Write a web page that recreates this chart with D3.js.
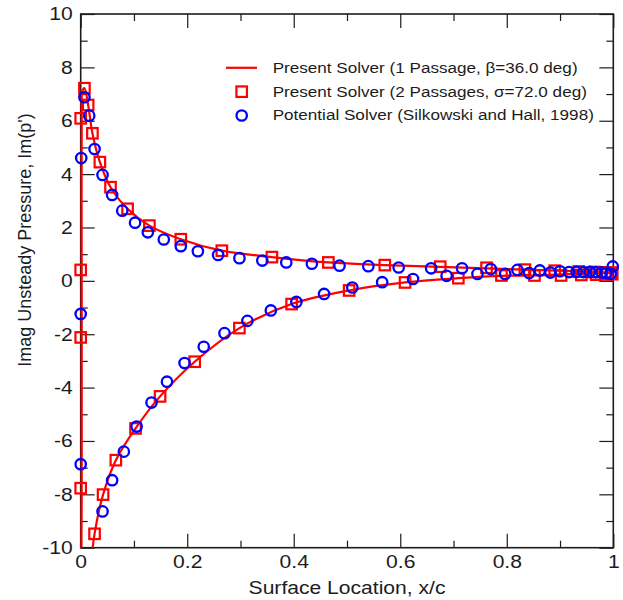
<!DOCTYPE html>
<html>
<head>
<meta charset="utf-8">
<script src="https://cdn.jsdelivr.net/npm/d3@7"></script>
<style>
  html, body { margin: 0; padding: 0; background: #fff; }
  svg { display: block; font-family: "Liberation Sans", Arial, Helvetica, sans-serif; }
</style>
</head>
<body>
<svg id="chart" width="623" height="600"></svg>
<script>
// Imaginary part of unsteady surface pressure vs. chordwise location

// Present solver, 1 passage (solid line): lower surface TE -> LE, then upper surface LE -> TE
const solverX = [1.0, 0.95, 0.9, 0.852, 0.79, 0.709, 0.609, 0.504, 0.396, 0.298, 0.214, 0.149, 0.103, 0.066, 0.042, 0.026, 0.016, 0.006,
                 0.0, 0.0, 0.0, 0.0, 0.0, 0.003, 0.007, 0.014, 0.022, 0.036, 0.056, 0.088, 0.129, 0.188, 0.265, 0.359, 0.465, 0.571,
                 0.675, 0.762, 0.834, 0.9, 0.95, 1.0];
const solverY = [0.30, 0.27, 0.24, 0.20, 0.19, 0.10, -0.06, -0.36, -0.87, -1.77, -3.03, -4.33, -5.53, -6.72, -8.01, -9.48, -11.2, -13.0,
                 -11.0, -7.77, -2.12, 0.41, 6.09, 7.1, 7.22, 6.59, 5.53, 4.45, 3.51, 2.70, 2.07, 1.56, 1.13, 0.89, 0.69, 0.59,
                 0.52, 0.47, 0.42, 0.38, 0.34, 0.31];

// Present solver, 2 passages (squares)
const twoPassX = [0, 0, 0.007, 0.014, 0.022, 0.036, 0.056, 0.088, 0.129, 0.188, 0.265, 0.359, 0.465, 0.571, 0.675, 0.762, 0.834, 0.890, 0.935, 0.965, 0.985, 0.997,
                  0, 0, 0.026, 0.042, 0.066, 0.103, 0.149, 0.214, 0.298, 0.396, 0.504, 0.609, 0.709, 0.790, 0.852, 0.902, 0.940, 0.968, 0.988, 0.998];
const twoPassY = [0.41, 6.09, 7.22, 6.59, 5.53, 4.45, 3.51, 2.70, 2.07, 1.56, 1.13, 0.89, 0.69, 0.59, 0.53, 0.49, 0.42, 0.38, 0.35, 0.33, 0.32, 0.31,
                  -2.12, -7.77, -9.48, -8.01, -6.72, -5.53, -4.33, -3.03, -1.77, -0.87, -0.36, -0.06, 0.10, 0.20, 0.20, 0.20, 0.22, 0.23, 0.24, 0.25];

// Potential solver (circles)
const potentialX = [0.001, 0.007, 0.016, 0.026, 0.041, 0.059, 0.078, 0.102, 0.126, 0.156, 0.188, 0.220, 0.258, 0.298, 0.341, 0.386, 0.434, 0.486, 0.540, 0.597,
                    0.658, 0.716, 0.770, 0.820, 0.862, 0.900, 0.931, 0.956, 0.978, 0.999,
                    0, 0, 0.041, 0.059, 0.081, 0.105, 0.133, 0.162, 0.195, 0.231, 0.270, 0.313, 0.357, 0.405, 0.457, 0.510, 0.566, 0.624, 0.687, 0.745,
                    0.797, 0.842, 0.882, 0.917, 0.944, 0.967, 0.987, 0.995];
const potentialY = [4.6, 6.88, 6.19, 4.94, 3.97, 3.22, 2.63, 2.18, 1.82, 1.55, 1.30, 1.11, 0.97, 0.85, 0.76, 0.69, 0.64, 0.57, 0.55, 0.50,
                    0.47, 0.47, 0.44, 0.41, 0.39, 0.36, 0.34, 0.34, 0.31, 0.54,
                    -1.24, -6.87, -8.64, -7.47, -6.40, -5.46, -4.56, -3.78, -3.08, -2.47, -1.96, -1.50, -1.11, -0.79, -0.49, -0.25, -0.05, 0.07, 0.19, 0.26,
                    0.26, 0.29, 0.31, 0.33, 0.33, 0.33, 0.29, 0.26];

// Axis ticks
const xMajorTicks = [0, 0.2, 0.4, 0.6, 0.8, 1];
const xMinorTicks = [0.1, 0.3, 0.5, 0.7, 0.9];
const yMajorTicks = [-10, -8, -6, -4, -2, 0, 2, 4, 6, 8, 10];
const yMinorTicks = [-9, -7, -5, -3, -1, 1, 3, 5, 7, 9];

const legendLabels = [
  "Present Solver (1 Passage, \u03B2=36.0 deg)",
  "Present Solver (2 Passages, \u03C3=72.0 deg)",
  "Potential Solver (Silkowski and Hall, 1998)"
];
const xTitle = "Surface Location, x/c";
const yTitle = "Imag Unsteady Pressure, Im(p')";

const RED = "#ff0000", BLUE = "#0000ff", INK = "#1c1c1c";
const STRETCH = 1.14;   // wide glyph rendering of horizontal text

const svg = d3.select("#chart");
const plotL = 80.7, plotR = 613.3, plotT = 14, plotB = 547.7;

const x = d3.scaleLinear().domain([0, 1]).range([plotL, plotR]);
const y = d3.scaleLinear().domain([-10, 10]).range([plotB, plotT]);

// Clip in y to the frame; leave a little room in x so the leading-edge segment stays visible
svg.append("clipPath").attr("id", "plotClip")
  .append("rect").attr("x", plotL - 3).attr("y", plotT).attr("width", plotR - plotL + 6).attr("height", plotB - plotT);

const MAJ = 14, MIN = 7;
function styleAxis(g) {
  g.select(".domain").remove();
  g.selectAll(".tick line").attr("stroke", INK).attr("stroke-width", 1.2);
}

// Bottom axis (labels) + minor
const bx = svg.append("g").attr("transform", `translate(0,${plotB})`)
  .call(d3.axisBottom(x).tickValues(xMajorTicks).tickSizeInner(-MAJ).tickSizeOuter(0).tickPadding(7).tickFormat(d => String(d)));
bx.call(styleAxis);
bx.selectAll(".tick text").attr("fill", INK).attr("font-size", 18.5).attr("transform", `scale(${STRETCH},1)`);
svg.append("g").attr("transform", `translate(0,${plotB})`)
  .call(d3.axisBottom(x).tickValues(xMinorTicks).tickSizeInner(-MIN).tickSizeOuter(0).tickFormat(() => ""))
  .call(styleAxis);

// Top axis ticks
svg.append("g").attr("transform", `translate(0,${plotT})`)
  .call(d3.axisTop(x).tickValues(xMajorTicks).tickSizeInner(-MAJ).tickSizeOuter(0).tickFormat(() => ""))
  .call(styleAxis);
svg.append("g").attr("transform", `translate(0,${plotT})`)
  .call(d3.axisTop(x).tickValues(xMinorTicks).tickSizeInner(-MIN).tickSizeOuter(0).tickFormat(() => ""))
  .call(styleAxis);

// Left axis (labels) + minor
const ly = svg.append("g").attr("transform", `translate(${plotL},0)`)
  .call(d3.axisLeft(y).tickValues(yMajorTicks).tickSizeInner(-MAJ).tickSizeOuter(0).tickPadding(7).tickFormat(d => String(d)));
ly.call(styleAxis);
ly.selectAll(".tick text").attr("fill", INK).attr("font-size", 18.5).attr("transform", `scale(${STRETCH},1)`);
svg.append("g").attr("transform", `translate(${plotL},0)`)
  .call(d3.axisLeft(y).tickValues(yMinorTicks).tickSizeInner(-MIN).tickSizeOuter(0).tickFormat(() => ""))
  .call(styleAxis);

// Right axis ticks
svg.append("g").attr("transform", `translate(${plotR},0)`)
  .call(d3.axisRight(y).tickValues(yMajorTicks).tickSizeInner(-MAJ).tickSizeOuter(0).tickFormat(() => ""))
  .call(styleAxis);
svg.append("g").attr("transform", `translate(${plotR},0)`)
  .call(d3.axisRight(y).tickValues(yMinorTicks).tickSizeInner(-MIN).tickSizeOuter(0).tickFormat(() => ""))
  .call(styleAxis);

// Frame
svg.append("rect").attr("x", plotL).attr("y", plotT).attr("width", plotR - plotL).attr("height", plotB - plotT)
  .attr("fill", "none").attr("stroke", INK).attr("stroke-width", 1.6);

// Solid line: single passage solution
const solverPts = solverX.map((v, i) => [v, solverY[i]]);
svg.append("path")
  .datum(solverPts)
  .attr("clip-path", "url(#plotClip)")
  .attr("fill", "none").attr("stroke", RED).attr("stroke-width", 2.2)
  .attr("d", d3.line().x(d => x(d[0]) + (d[0] === 0 ? 1 : 0)).y(d => y(d[1])).curve(d3.curveCatmullRom.alpha(0.5)));

// Squares: two passage solution
const SQ = 10.5;
svg.append("g").selectAll("rect")
  .data(twoPassX.map((v, i) => [v, twoPassY[i]]))
  .join("rect")
  .attr("x", d => x(d[0]) - SQ / 2).attr("y", d => y(d[1]) - SQ / 2)
  .attr("width", SQ).attr("height", SQ)
  .attr("fill", "none").attr("stroke", RED).attr("stroke-width", 2.2);

// Circles: potential solver
const CR = 5.2;
svg.append("g").selectAll("circle")
  .data(potentialX.map((v, i) => [v, potentialY[i]]))
  .join("circle")
  .attr("cx", d => x(d[0])).attr("cy", d => y(d[1])).attr("r", CR)
  .attr("fill", "none").attr("stroke", BLUE).attr("stroke-width", 2.3);

// Legend
const legend = svg.append("g");
const rowY = [73.3, 96.7, 120];
const textX = 272.7, symX = 241.7;
legend.append("line").attr("x1", 226).attr("x2", 257).attr("y1", rowY[0] - 5.5).attr("y2", rowY[0] - 5.5)
  .attr("stroke", RED).attr("stroke-width", 2.2);
legend.append("rect").attr("x", symX - SQ / 2).attr("y", rowY[1] - 5 - SQ / 2).attr("width", SQ).attr("height", SQ)
  .attr("fill", "none").attr("stroke", RED).attr("stroke-width", 2.2);
legend.append("circle").attr("cx", symX).attr("cy", rowY[2] - 4.5).attr("r", CR)
  .attr("fill", "none").attr("stroke", BLUE).attr("stroke-width", 2.3);
legendLabels.forEach((t, i) => {
  legend.append("text")
    .attr("transform", `translate(${textX},${rowY[i]}) scale(${STRETCH},1)`)
    .attr("font-size", 15).attr("fill", INK).text(t);
});

// Axis titles
svg.append("text")
  .attr("transform", `translate(${(plotL + plotR) / 2},594) scale(${STRETCH},1)`)
  .attr("text-anchor", "middle").attr("font-size", 18.5).attr("fill", INK).text(xTitle);
svg.append("text")
  .attr("transform", `translate(31,240) rotate(-90)`)
  .attr("text-anchor", "middle").attr("font-size", 18).attr("fill", INK).text(yTitle);
</script>
</body>
</html>
